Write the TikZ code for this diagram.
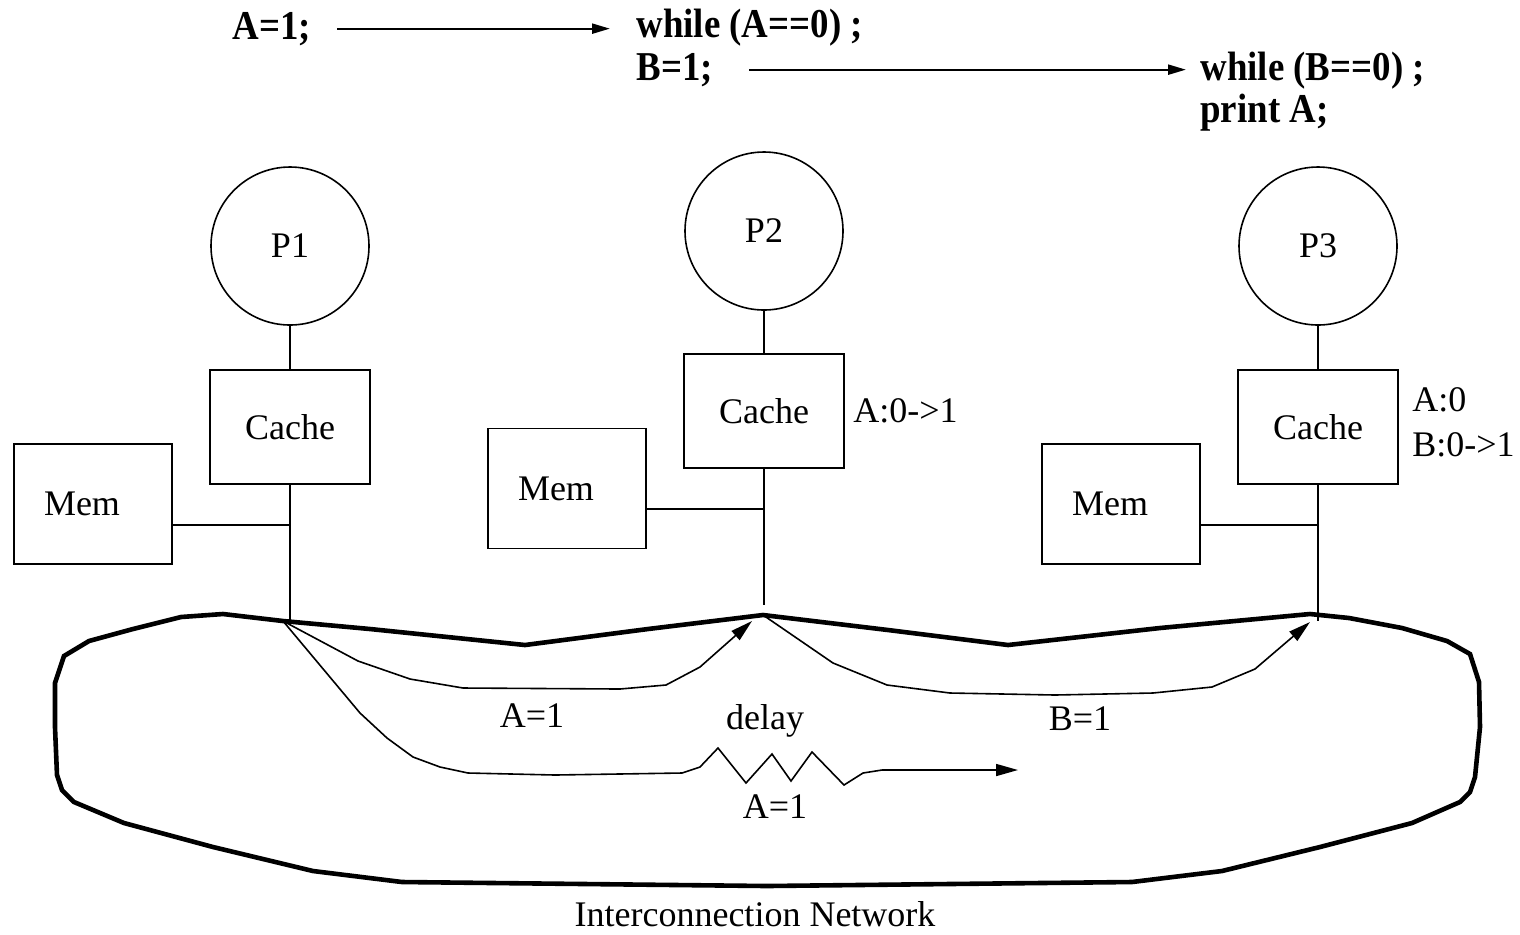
\documentclass[tikz,border=0pt]{standalone}
\usepackage{fontspec}
\setmainfont{Liberation Serif}
\usetikzlibrary{arrows.meta}
\newcommand{\narrowcode}[1]{\scalebox{0.9}[1]{#1}}
\begin{document}
\begin{tikzpicture}[x=0.5pt,y=-0.5pt,
  font=\fontsize{18pt}{21.6pt}\selectfont,
  thinline/.style={line width=0.8pt},
  ring/.style={line width=2.3pt, line join=miter},
  proc/.style={circle, draw, line width=0.8pt, minimum size=79pt, inner sep=0pt},
  cachebox/.style={draw, line width=0.8pt, minimum width=80pt, minimum height=57pt, inner sep=0pt},
  membox/.style={draw, line width=0.8pt, minimum width=79pt, minimum height=60pt, inner sep=0pt, label={[xshift=-5.5pt]center:Mem}},
  lbl/.style={inner sep=0pt, anchor=base},
  side/.style={inner sep=0pt, anchor=base west},
  code/.style={inner sep=0pt, anchor=base west, font=\fontsize{20.5pt}{24pt}\selectfont\bfseries},
  msg/.style={line width=0.8pt, -{Triangle[length=11pt,width=6pt]}},
  codearrow/.style={line width=1.1pt, -{Triangle[length=9pt,width=5pt]}}]
\useasboundingbox (0,0) rectangle (1520,934);

% code at the top
\node[code] (a1) at (232,39) {\narrowcode{A=1;}};
\node[code] (w1) at (636,37) {\narrowcode{while (A==0) ;}};
\node[code] (b1) at (636,80) {\narrowcode{B=1;}};
\node[code] (w2) at (1200,80) {\narrowcode{while (B==0) ;}};
\node[code] (pr) at (1200,122) {\narrowcode{print A;}};
\draw[codearrow, shorten <=13pt, shorten >=13pt] (a1.east) -- (a1.east -| w1.west);
\draw[codearrow, shorten <=18pt, shorten >=7pt] (b1.east) -- (b1.east -| w2.west);

% processors
\node[proc] (P1) at (290,246) {P1};
\node[proc] (P2) at (764,231) {P2};
\node[proc] (P3) at (1318,246) {P3};

% caches
\node[cachebox] (C1) at (290,427) {Cache};
\node[cachebox] (C2) at (764,411) {Cache};
\node[cachebox] (C3) at (1318,427) {Cache};

% memories
\node[membox] (M1) at (93,504) {};
\node[membox] (M2) at (567,488.5) {};
\node[membox] (M3) at (1121,504) {};

% cache state labels
\node[side] (s2) at (853,422) {A:0->1};
\node[side] (s3a) at (1412,411) {A:0};
\node[side] (s3b) at (1412,456) {B:0->1};

% bus coordinates
\coordinate (H1) at (290,525);
\coordinate (H2) at (764,509);
\coordinate (H3) at (1318,525);
\coordinate (J1) at (290,621);
\coordinate (J2) at (764,605);
\coordinate (J3) at (1318,621);

\draw[thinline] (P1) -- (C1);
\draw[thinline] (P2) -- (C2);
\draw[thinline] (P3) -- (C3);
\draw[thinline] (C1.south) -- (J1);
\draw[thinline] (C2.south) -- (J2);
\draw[thinline] (C3.south) -- (J3);
\draw[thinline] (M1.east |- H1) -- (H1);
\draw[thinline] (M2.east |- H2) -- (H2);
\draw[thinline] (M3.east |- H3) -- (H3);

% interconnection ring
\coordinate (R1) at (283,621);
\coordinate (R2) at (763,615);
\coordinate (R3) at (1310,614);
\draw[ring] (R1) -- (370,629) -- (525,645) -- (648,629) -- (R2) -- (888,630)
  -- (1008,645) -- (1160,628) -- (R3) -- (1349,618) -- (1402,628) -- (1447,641)
  -- (1470,654) -- (1479,682) -- (1480,727) -- (1475,777) -- (1470,792)
  -- (1460,802) -- (1412,823) -- (1320,847) -- (1222,871) -- (1132,882)
  -- (767,886) -- (402,882) -- (313,871) -- (213,847) -- (124,823) -- (74,802)
  -- (62,790) -- (57,775) -- (55,727) -- (55,683) -- (64,656) -- (89,641)
  -- (133,629) -- (181,617) -- (223,614) -- cycle;

% messages
\coordinate (T2) at (752,621);
\coordinate (T3) at (1310,622);
\coordinate (D) at (1018,770);
\draw[msg] (R1) -- (358,661) -- (410,679) -- (463,688) -- (620,689) -- (666,685)
  -- (700,667) -- (T2);
\draw[msg] (R1) -- (360,713) -- (387,738) -- (413,757) -- (440,767) -- (468,773)
  -- (555,775) -- (682,773) -- (700,767) -- (718,748) -- (746,783) -- (772,754)
  -- (791,781) -- (812,752) -- (844,785) -- (863,773) -- (882,770) -- (D);
\draw[msg] (R2) -- (833,663) -- (887,685) -- (950,693) -- (1055,695) -- (1153,693)
  -- (1212,687) -- (1255,669) -- (T3);

% message labels
\node[lbl] (l1) at (532,727) {A=1};
\node[lbl] (l2) at (765,729) {delay};
\node[lbl] (l3) at (775,818) {A=1};
\node[lbl] (l4) at (1080,730) {B=1};
\node[lbl] (net) at (755,926) {Interconnection Network};
\end{tikzpicture}
\end{document}
